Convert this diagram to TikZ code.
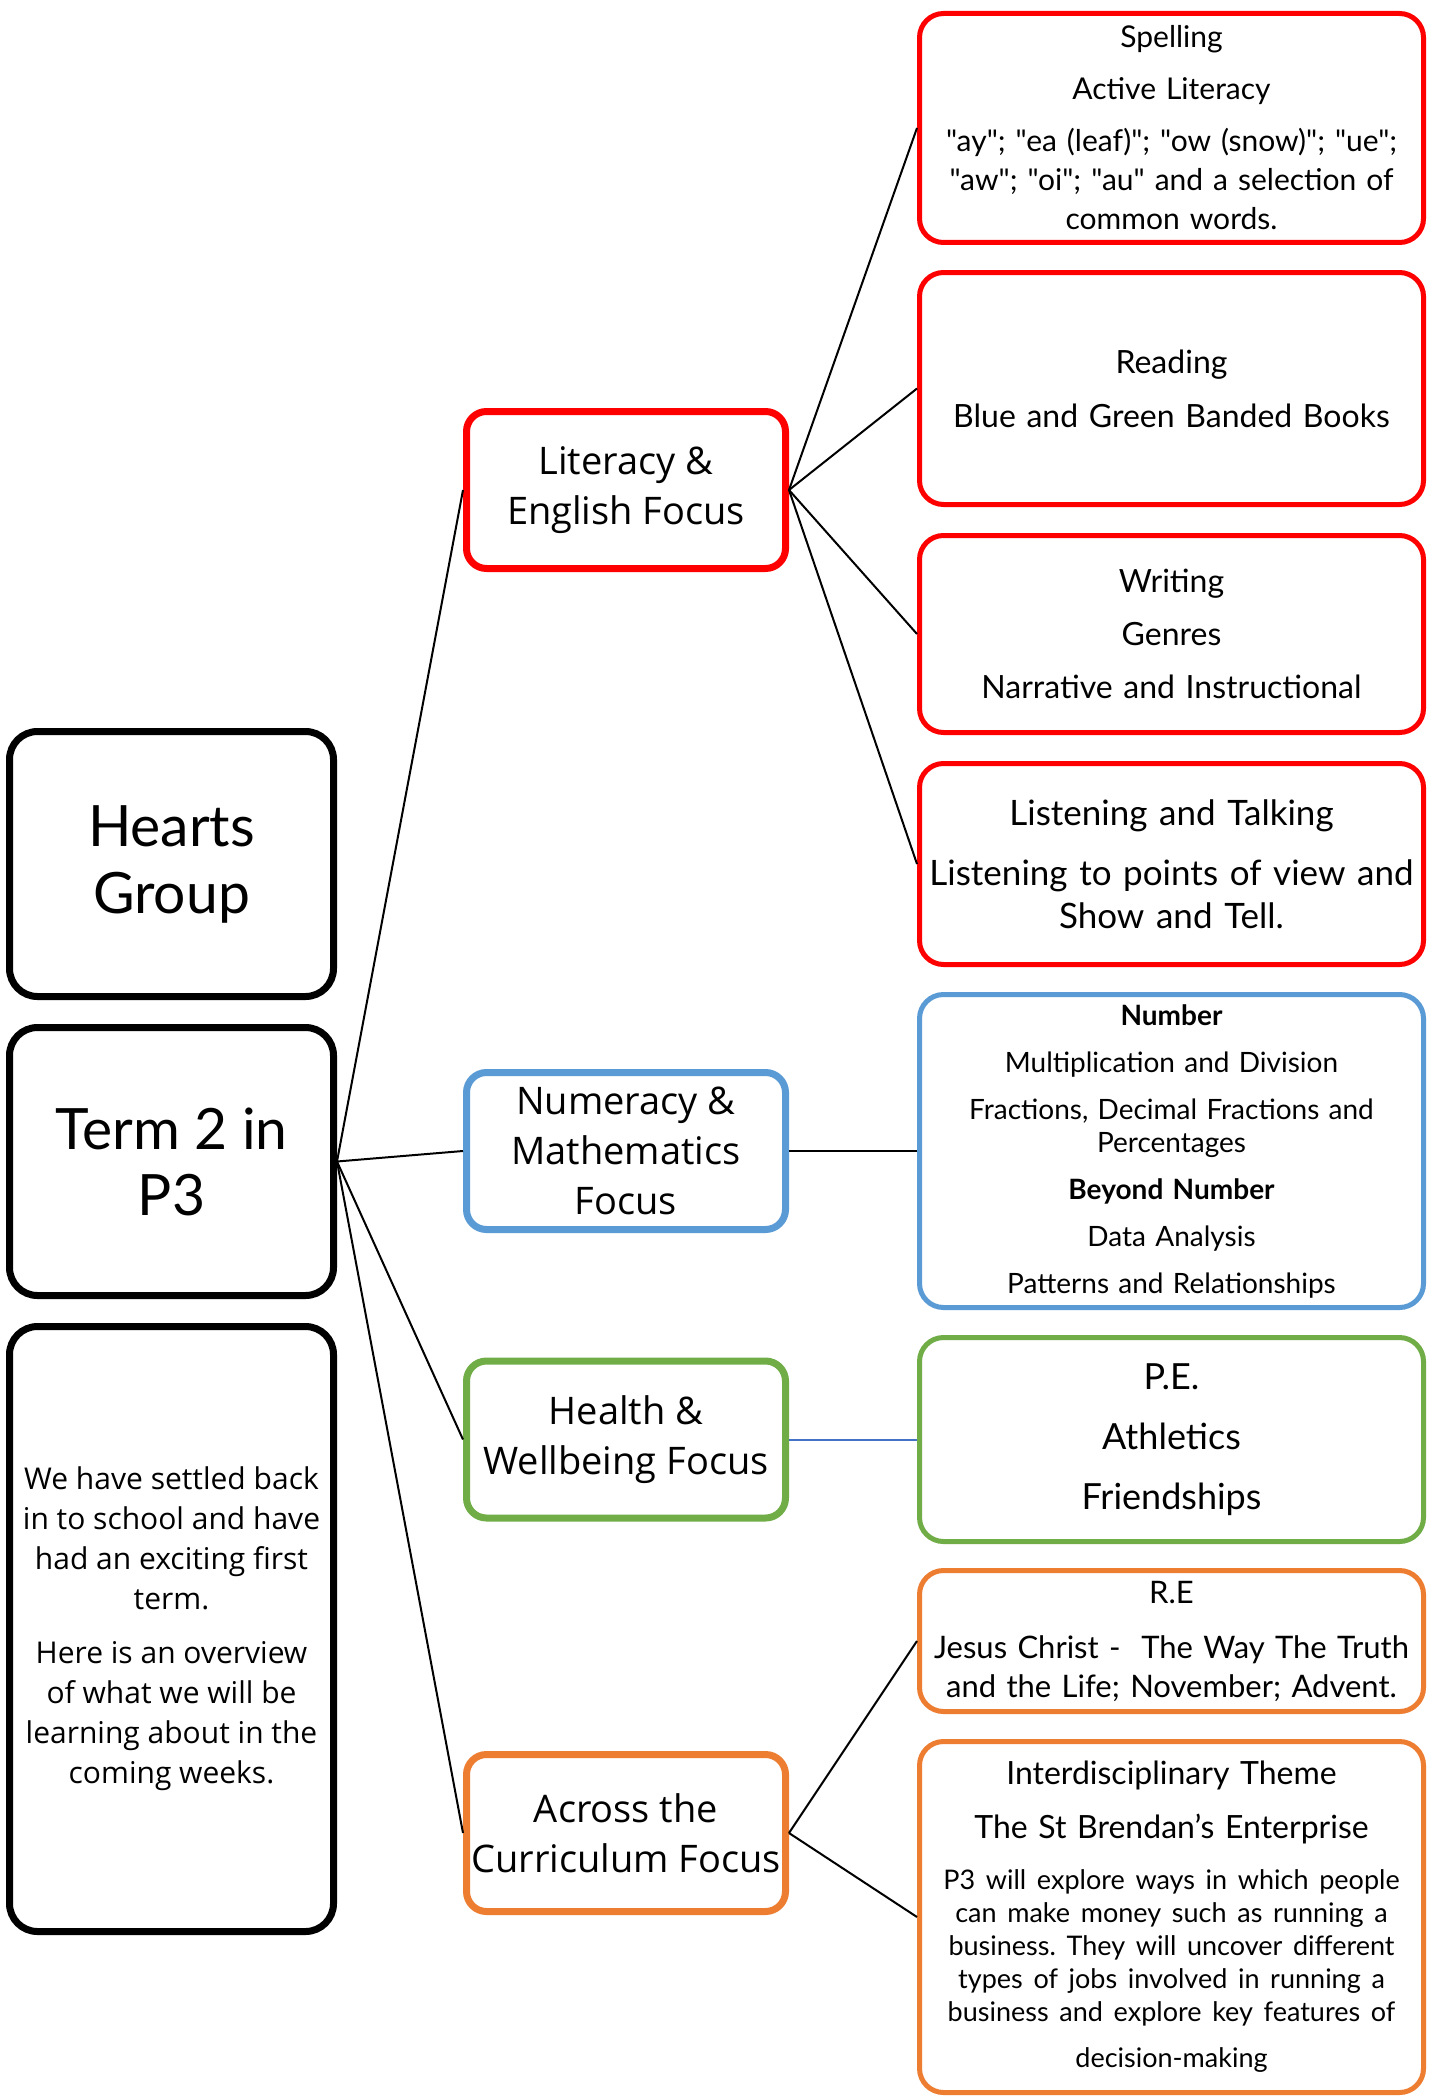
\documentclass[tikz,border=0pt]{standalone}
\usepackage{fontspec}
\setmainfont{Open Sans}
\newfontfamily\hand{Lato}
\newfontfamily\ui{Open Sans}
\definecolor{cred}{HTML}{FF0000}
\definecolor{cblue}{HTML}{5B9BD5}
\definecolor{cgreen}{HTML}{70AD47}
\definecolor{corange}{HTML}{ED7D31}
\definecolor{clink}{HTML}{4472C4}
\hyphenpenalty=10000
\frenchspacing
\tikzset{
 leftbox/.style={draw=black, line width=7pt, rounded corners=28pt, minimum width=324pt, align=center, inner sep=0pt},
 midbox/.style={line width=7pt, rounded corners=20pt, minimum width=319pt, minimum height=157pt, align=center, inner sep=0pt, font=\ui\fontsize{38}{50}\selectfont},
 rightbox/.style={line width=5pt, rounded corners=24pt, minimum width=504pt, text width=500pt, align=center, inner sep=0pt},
 link/.style={line width=2pt, draw=black},
}
\begin{document}
\begin{tikzpicture}[x=1pt, y=-1pt]
\fill[white] (0,0) rectangle (1430,2100);
\useasboundingbox (0,0) rectangle (1430,2100);

% left column
\node[leftbox, minimum height=265pt, font=\hand\fontsize{57}{67}\selectfont] (hearts) at (171.5,864) {Hearts\\Group};
\node[leftbox, minimum height=268pt, font=\hand\fontsize{57}{66}\selectfont] (term) at (171.5,1161.5) {Term 2 in\\P3};
\node[leftbox, minimum height=605pt, font=\ui\fontsize{30}{40}\selectfont] (intro) at (171.5,1629) {We have settled back\\in to school and have\\had an exciting first\\term.\\[14pt]Here is an overview\\of what we will be\\learning about in the\\coming weeks.};

% middle column
\node[midbox, draw=cred] (lit) at (626,490) {Literacy \&\\English Focus};
\node[midbox, draw=cblue] (num) at (626,1151) {Numeracy \&\\Mathematics\\Focus};
\node[midbox, draw=cgreen] (hw) at (626,1439.5) {Health \&\\Wellbeing Focus};
\node[midbox, draw=corange] (acc) at (626,1833) {Across the\\Curriculum Focus};

% right column
\node[rightbox, draw=cred, minimum height=229pt, font=\hand\fontsize{30}{39}\selectfont] (spell) at (1171.5,128) {Spelling\\[13pt]Active Literacy\\[13pt]"ay"; "ea (leaf)"; "ow (snow)"; "ue";\\"aw"; "oi"; "au" and a selection of\\common words.};
\node[rightbox, draw=cred, minimum height=232pt, font=\hand\fontsize{32}{39}\selectfont] (read) at (1171.5,388.5) {Reading\\[15pt]Blue and Green Banded Books};
\node[rightbox, draw=cred, minimum height=197pt, font=\hand\fontsize{32}{39}\selectfont] (write) at (1171.5,634) {Writing\\[14pt]Genres\\[14pt]Narrative and Instructional};
\node[rightbox, draw=cred, minimum height=201pt, font=\hand\fontsize{35}{43}\selectfont] (listen) at (1171.5,864) {Listening and Talking\\[17pt]Listening to points of view and\\Show and Tell.};
\node[rightbox, draw=cblue, minimum height=313pt, font=\hand\fontsize{28}{33}\selectfont] (number) at (1171.5,1151) {{\bfseries Number}\\[14pt]Multiplication and Division\\[14pt]Fractions, Decimal Fractions and\\Percentages\\[14pt]{\bfseries Beyond Number}\\[14pt]Data Analysis\\[14pt]Patterns and Relationships};
\node[rightbox, draw=cgreen, minimum height=204pt, font=\hand\fontsize{36}{43}\selectfont] (pe) at (1171.5,1439.5) {P.E.\\[17pt]Athletics\\[17pt]Friendships};
\node[rightbox, draw=corange, minimum height=141pt, font=\hand\fontsize{31}{39}\selectfont] (re) at (1171.5,1641) {R.E\\[16pt]Jesus Christ -\ \ The Way The Truth\\and the Life; November; Advent.};
\node[rightbox, draw=corange, minimum height=351pt, font=\hand\fontsize{32}{33}\selectfont] (idt) at (1171.5,1917) {Interdisciplinary Theme\\[21pt]The St Brendan’s Enterprise\\[18pt]\fontsize{27}{33}\selectfont P3 will explore ways in which people\\can make money such as running a\\business. They will uncover different\\types of jobs involved in running a\\business and explore key features of\\[13pt]decision-making};

% connectors
\draw[link] (term.east) -- (lit.west);
\draw[link] (term.east) -- (num.west);
\draw[link] (term.east) -- (hw.west);
\draw[link] (term.east) -- (acc.west);
\draw[link] (lit.east) -- (spell.west);
\draw[link] (lit.east) -- (read.west);
\draw[link] (lit.east) -- (write.west);
\draw[link] (lit.east) -- (listen.west);
\draw[link] (num.east) -- (number.west);
\draw[link, draw=clink] (hw.east) -- (pe.west);
\draw[link] (acc.east) -- (re.west);
\draw[link] (acc.east) -- (idt.west);
\end{tikzpicture}
\end{document}
